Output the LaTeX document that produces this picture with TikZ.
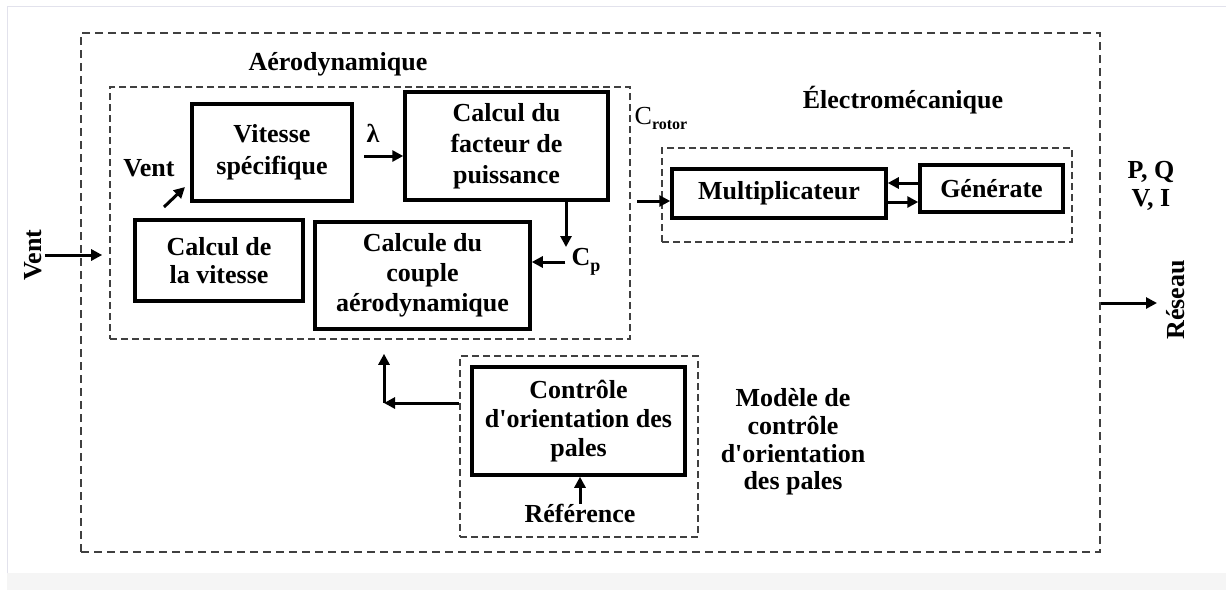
\documentclass[tikz,border=0pt]{standalone}
\usepackage{fontspec}
\setmainfont{Liberation Serif}
\usetikzlibrary{arrows.meta}
\begin{document}
\begin{tikzpicture}[x=1pt,y=-1pt,
  every node/.style={font=\fontsize{26}{30}\selectfont\bfseries, inner sep=0pt, align=center},
  blk/.style={draw, line width=3.5pt},
  grp/.style={draw=black!75, line width=1.6pt, dash pattern=on 7pt off 4pt},
  outerbox/.style={draw=black!75, line width=2pt, dash pattern=on 8pt off 5pt},
  arr/.style={line width=3pt, -{Triangle[length=11pt,width=11pt]}},
]
\useasboundingbox (0,0) rectangle (1226,590);
\fill[white] (0,0) rectangle (1226,590);
\fill[black!4] (7,573) rectangle (1226,590);
\draw[color={rgb,255:red,226;green,226;blue,236}, line width=1pt] (7,573) -- (7,6) -- (1226,6);

% group boxes
\node[outerbox, minimum width=1019, minimum height=519] (sys) at (590.5,292.5) {};
\node[grp, minimum width=520, minimum height=252] (aero) at (370,213) {};
\node[grp, minimum width=410, minimum height=94] (elec) at (867,195) {};
\node[grp, minimum width=238, minimum height=181] (ctrlg) at (579,446.5) {};

% group titles
\node (taero) at (338,64) {Aérodynamique};
\node (telec) at (903,100) {Électromécanique};
\node[font=\fontsize{26}{27.7}\selectfont\bfseries] (tmod) at (793,442) {Modèle de\\contrôle\\d\textquotesingle orientation\\des pales};

% blocks
\node[blk, minimum width=160, minimum height=97, font=\fontsize{26}{32}\selectfont\bfseries] (vit) at (272,152.5) {Vitesse\\spécifique};
\node[blk, minimum width=203, minimum height=108, font=\fontsize{26}{31}\selectfont\bfseries] (fac) at (506.5,146) {Calcul du\\facteur de\\puissance};
\node[blk, minimum width=215, minimum height=107] (cou) at (422.5,275.5) {Calcule du\\couple\\aérodynamique};
\node[blk, minimum width=168, minimum height=81, font=\fontsize{26}{28}\selectfont\bfseries] (cvit) at (219,260.5) {Calcul de\\la vitesse};
\node[blk, minimum width=214, minimum height=49] (mult) at (779,193.5) {Multiplicateur};
\node[blk, minimum width=143, minimum height=47] (gen) at (991.5,188.5) {Générate};
\node[blk, minimum width=213, minimum height=108, font=\fontsize{26}{29}\selectfont\bfseries] (ctrl) at (578.5,421) {Contrôle\\d\textquotesingle orientation des\\pales};

% labels
\node[rotate=90] (ventL) at (33,255) {Vent};
\node (vent2) at (149,168) {Vent};
\node (lam) at (373,133) {λ};
\node (crot) at (661,118) {{\mdseries C}\raisebox{-5pt}{\fontsize{16}{16}\selectfont rotor}};
\node (cp) at (586,262) {C\raisebox{-6pt}{\fontsize{18}{18}\selectfont p}};
\node[font=\fontsize{26}{28}\selectfont\bfseries] (pq) at (1151,186) {P, Q\\V, I};
\node[rotate=90] (res) at (1176,300) {Réseau};
\node (ref) at (580,513) {Référence};

% connectors
\draw[arr, shorten <=3pt, shorten >=7pt] (ventL.south) -- (aero.west |- ventL.south);
\coordinate (v2a) at (164,207);
\coordinate (v2b) at (185,187);
\draw[arr] (v2a) -- (v2b);
\coordinate (lamA) at (364,156);
\draw[arr] (lamA) -- (fac.west |- lamA);
\coordinate (cpd) at (566,247);
\draw[arr] (fac.south -| cpd) -- (cpd);
\draw[arr, shorten <=6pt] (cp.west) -- (cou.east |- cp.west);
\coordinate (crin) at (637,201);
\draw[arr] (crin) -- (mult.west |- crin);
\coordinate (gmA) at (903,183);
\coordinate (mgA) at (903,202);
\draw[arr] (gen.west |- gmA) -- (mult.east |- gmA);
\draw[arr] (mult.east |- mgA) -- (gen.west |- mgA);
\coordinate (resin) at (1157,303);
\draw[arr] (sys.east |- resin) -- (resin);
\draw[arr] (ref.north) -- (ctrl.south -| ref.north);
\coordinate (fb) at (384,403);
\draw[arr] (ctrlg.west |- fb) -- (fb);
\draw[arr, shorten >=14pt] (fb) -- (aero.south -| fb);
\end{tikzpicture}
\end{document}
